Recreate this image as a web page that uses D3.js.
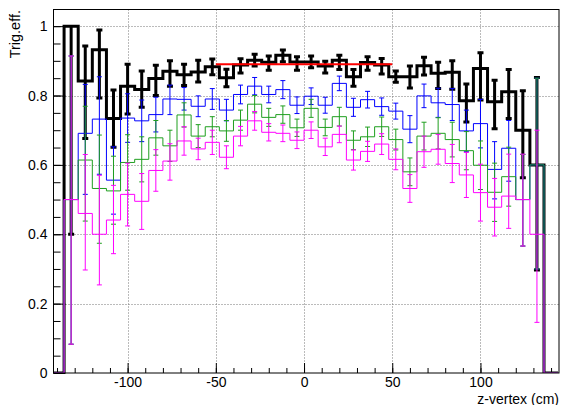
<!DOCTYPE html>
<html><head><meta charset="utf-8">
<script src="https://cdn.jsdelivr.net/npm/d3@7"></script>
<style>body{margin:0;background:#fff}svg{display:block}</style>
</head><body><svg id="c" width="561" height="405"></svg>
<script>
// ---- data ----
const zBins = [-140,-132,-124,-116,-108,-100,-92,-84,-76,-68,-60,-52,-44,-36,-28,-20,-12,-4,4,12,20,28,36,44,52,60,68,76,84,92,100,108,116,124,132,140];
const binWidth = 8;

const effBlack = [0,1.000,0.842,0.932,0.734,0.827,0.817,0.849,0.870,0.860,0.868,0.883,0.851,0.888,0.902,0.896,0.916,0.897,0.897,0.885,0.902,0.854,0.895,0.888,0.854,0.854,0.886,0.864,0.867,0.785,0.878,0.782,0.811,0.700,0.600,0];
const upBlack  = [0,0,0.101,0.057,0.082,0.063,0.054,0.038,0.030,0.030,0.034,0.022,0.025,0.018,0.017,0.018,0.015,0.015,0.017,0.014,0.014,0.021,0.017,0.019,0.017,0.031,0.024,0.032,0.033,0.048,0.045,0.062,0.064,0.114,0.252,0];
const dnBlack  = [0,0.600,0.166,0.139,0.083,0.080,0.051,0.049,0.043,0.031,0.029,0.023,0.026,0.023,0.017,0.023,0.019,0.024,0.017,0.020,0.027,0.027,0.022,0.026,0.016,0.032,0.027,0.044,0.049,0.061,0.091,0.078,0.077,0.137,0.303,0];

const effBlue = [0,0.5,0.691,0.732,0.556,0.735,0.727,0.745,0.790,0.789,0.769,0.790,0.758,0.803,0.827,0.803,0.817,0.772,0.798,0.772,0.835,0.766,0.788,0.768,0.755,0.703,0.799,0.779,0.774,0.698,0.719,0.587,0.648,0.5,0.6,0];
const upBlue  = [0,0.414,0.141,0.122,0.096,0.07,0.06,0.05,0.04,0.034,0.03,0.03,0.031,0.027,0.025,0.024,0.026,0.024,0.024,0.023,0.021,0.026,0.024,0.025,0.023,0.039,0.034,0.042,0.046,0.06,0.07,0.08,0.08,0.13,0.25,0];
const dnBlue  = [0,0.417,0.176,0.159,0.098,0.07,0.06,0.05,0.045,0.031,0.03,0.03,0.031,0.027,0.025,0.024,0.026,0.024,0.024,0.023,0.021,0.026,0.024,0.025,0.023,0.039,0.034,0.042,0.046,0.06,0.07,0.085,0.095,0.134,0.3,0];

const effGreen = [0,0.5,0.614,0.532,0.525,0.607,0.616,0.678,0.655,0.744,0.683,0.710,0.698,0.729,0.775,0.737,0.745,0.707,0.763,0.708,0.739,0.671,0.681,0.710,0.673,0.580,0.683,0.691,0.673,0.641,0.599,0.521,0.566,0.5,0.6,0];
const upGreen  = [0,0.414,0.155,0.154,0.10,0.08,0.065,0.05,0.045,0.035,0.033,0.029,0.030,0.029,0.025,0.026,0.025,0.025,0.026,0.024,0.027,0.027,0.028,0.028,0.03,0.04,0.04,0.045,0.05,0.055,0.07,0.084,0.085,0.13,0.25,0];
const dnGreen  = [0,0.417,0.176,0.158,0.096,0.08,0.065,0.05,0.045,0.035,0.033,0.029,0.030,0.029,0.025,0.026,0.025,0.025,0.026,0.024,0.027,0.027,0.028,0.028,0.03,0.04,0.04,0.045,0.05,0.055,0.07,0.084,0.085,0.134,0.3,0];

const effMagenta = [0,0.5,0.46,0.40,0.441,0.515,0.495,0.584,0.611,0.669,0.646,0.665,0.622,0.683,0.727,0.694,0.691,0.671,0.700,0.652,0.688,0.614,0.639,0.660,0.616,0.532,0.638,0.645,0.604,0.571,0.520,0.478,0.510,0.5,0.40,0];
const upMagenta  = [0,0.414,0.17,0.17,0.10,0.09,0.08,0.06,0.05,0.041,0.031,0.035,0.033,0.028,0.027,0.025,0.024,0.024,0.024,0.025,0.024,0.029,0.029,0.03,0.03,0.04,0.045,0.043,0.055,0.065,0.082,0.083,0.121,0.131,0.30,0];
const dnMagenta  = [0,0.417,0.163,0.146,0.097,0.091,0.081,0.06,0.055,0.041,0.031,0.035,0.033,0.028,0.027,0.025,0.024,0.024,0.024,0.025,0.024,0.029,0.029,0.03,0.03,0.04,0.045,0.043,0.055,0.065,0.082,0.083,0.093,0.134,0.254,0];

const fitRange = [-50, 50];
const fitValue = 0.890;

const xMajorTicks = [-100,-50,0,50,100];
const xTickLabels = ["-100","-50","0","50","100"];
const yMajorTicks = [0,0.2,0.4,0.6,0.8,1];
const yTickLabels = ["0","0.2","0.4","0.6","0.8","1"];
const xTitle = "z-vertex (cm)";
const yTitle = "Trig.eff.";

// ---- layout ----
const L = 53.5, R = 559, T = 9.5, B = 373;
const x = d3.scaleLinear().domain([-142, 144.5]).range([L, R]);
const y = d3.scaleLinear().domain([0, 1.048]).range([B, T]);
const svg = d3.select("#c");
const FONT = "'Liberation Sans', Arial, Helvetica, sans-serif";

svg.append("rect").attr("width",561).attr("height",405).attr("fill","#fff");
svg.append("defs").append("clipPath").attr("id","clip")
  .append("rect").attr("x",L).attr("y",T).attr("width",R-L).attr("height",B-T);

// grid
const grid = svg.append("g").attr("stroke","#777").attr("stroke-width",1).attr("stroke-dasharray","1,2");
xMajorTicks.forEach(v => grid.append("line").attr("x1",Math.round(x(v))+0.5).attr("x2",Math.round(x(v))+0.5).attr("y1",T).attr("y2",B));
yMajorTicks.filter(v=>v>0).forEach(v => grid.append("line").attr("x1",L).attr("x2",R).attr("y1",Math.round(y(v))+0.5).attr("y2",Math.round(y(v))+0.5));

// axes
const xMinor = d3.range(-140, 141, 10);
const yMinor = d3.range(0, 1.0001, 0.05);
function styleAxis(g){ g.select(".domain").remove(); g.selectAll("line").attr("stroke","#000"); g.selectAll("text").attr("font-family",FONT).attr("font-size","14px").attr("fill","#000"); }
svg.append("g").attr("transform",`translate(0,${B})`)
  .call(d3.axisBottom(x).tickValues(xMinor).tickSize(-5).tickFormat("")).call(styleAxis);
svg.append("g").attr("transform",`translate(0,${B})`)
  .call(d3.axisBottom(x).tickValues(xMajorTicks).tickSize(-10).tickPadding(4.5).tickFormat((d,i)=>xTickLabels[i])).call(styleAxis);
svg.append("g").attr("transform",`translate(${L},0)`)
  .call(d3.axisLeft(y).tickValues(yMinor).tickSize(-7).tickFormat("")).call(styleAxis);
svg.append("g").attr("transform",`translate(${L},0)`)
  .call(d3.axisLeft(y).tickValues(yMajorTicks).tickSize(-12).tickPadding(6).tickFormat((d,i)=>yTickLabels[i])).call(styleAxis);

// histograms
const plot = svg.append("g").attr("clip-path","url(#clip)");
const stepLine = d3.line().x(d=>x(d[0])).y(d=>y(d[1])).curve(d3.curveStepAfter);
function drawHist(vals, up, dn, color, lw, capHalf){
  const pts = zBins.map((c,i)=>[c-binWidth/2, vals[i]]);
  pts.push([zBins[zBins.length-1]+binWidth/2, vals[vals.length-1]]);
  plot.append("path").attr("d",stepLine(pts)).attr("fill","none").attr("stroke",color).attr("stroke-width",lw);
  const g = plot.append("g").attr("stroke",color).attr("stroke-width",lw);
  zBins.forEach((c,i)=>{
    if (up[i]===0 && dn[i]===0) return;
    const xc = x(c), y1 = y(vals[i]+up[i]), y0 = y(vals[i]-dn[i]);
    g.append("line").attr("x1",xc).attr("x2",xc).attr("y1",y1).attr("y2",y0);
    if (up[i]>0) g.append("line").attr("x1",xc-capHalf).attr("x2",xc+capHalf).attr("y1",y1).attr("y2",y1);
    g.append("line").attr("x1",xc-capHalf).attr("x2",xc+capHalf).attr("y1",y0).attr("y2",y0);
  });
}
drawHist(effBlack, upBlack, dnBlack, "#000", 3, 3);
drawHist(effBlue, upBlue, dnBlue, "#0000ff", 1, 2.5);
drawHist(effGreen, upGreen, dnGreen, "#1f9f1f", 1, 2.5);
drawHist(effMagenta, upMagenta, dnMagenta, "#ff00ff", 1, 2.5);

// fit line
plot.append("line").attr("x1",x(fitRange[0])).attr("x2",x(fitRange[1]))
  .attr("y1",y(fitValue)).attr("y2",y(fitValue)).attr("stroke","#ff0000").attr("stroke-width",2);

// frame
svg.append("rect").attr("x",L).attr("y",T).attr("width",R-L).attr("height",B-T)
  .attr("fill","none").attr("stroke","#000").attr("stroke-width",1);

// titles
svg.append("text").attr("transform","translate(20,10) rotate(-90)").attr("text-anchor","end")
  .attr("font-family",FONT).attr("font-size","14.5px").text(yTitle);
svg.append("text").attr("x",559).attr("y",403.5).attr("text-anchor","end")
  .attr("font-family",FONT).attr("font-size","14px").text(xTitle);
</script></body></html>
